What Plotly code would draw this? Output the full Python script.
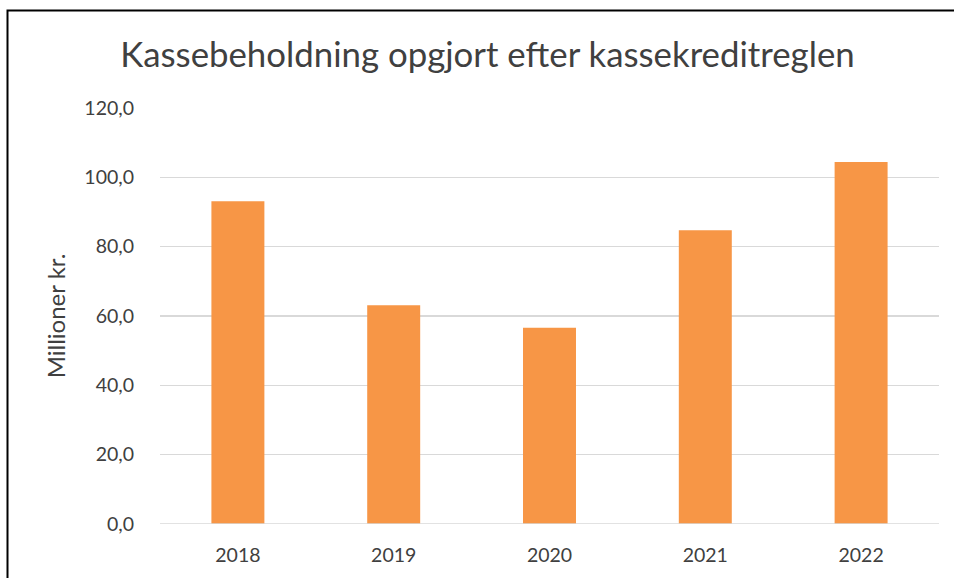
import plotly.graph_objects as go

years = ["2018", "2019", "2020", "2021", "2022"]
values = [93.1, 63.1, 56.6, 84.7, 104.4]
y_ticks = [0, 20, 40, 60, 80, 100, 120]
y_tick_labels = ["0,0", "20,0", "40,0", "60,0", "80,0", "100,0", "120,0"]

W, H = 955, 578
L, R, T, B = 160, 16, 108, 54
pw, ph = W - L - R, H - T - B

def px(x):
    return (x - L) / pw

def py(y):
    return (H - B - y) / ph

fig = go.Figure()
fig.add_trace(go.Bar(
    x=years, y=values,
    marker=dict(color="#F79646", line=dict(width=0)),
    hoverinfo="x+y",
))

font = "Lato, Calibri, Carlito, sans-serif"
fig.update_layout(
    width=W, height=H,
    margin=dict(l=L, r=R, t=T, b=B),
    paper_bgcolor="white", plot_bgcolor="white",
    bargap=0.66,
    showlegend=False,
    font=dict(family=font, color="#595959"),
    title=dict(text="Kassebeholdning opgjort efter kassekreditreglen",
               x=px(487.5), xref="paper", xanchor="center",
               y=1 - 55 / H, yanchor="middle",
               font=dict(size=34.8, color="#404040", family=font)),
    xaxis=dict(showgrid=False, zeroline=False, showline=False, ticks="",
               tickfont=dict(size=19.5, color="#404040"), ticklabelstandoff=17),
    yaxis=dict(range=[0, 120], tickvals=y_ticks, ticktext=y_tick_labels,
               showgrid=True, gridcolor="#D9D9D9", gridwidth=1.5,
               zeroline=False, showline=False, ticks="",
               tickfont=dict(size=19.5, color="#404040"), ticklabelstandoff=25,
               title=dict(text="Millioner kr.", font=dict(size=24, color="#404040"),
                          standoff=11)),
)
# zero baseline
fig.add_shape(type="line", xref="paper", yref="y", x0=0, x1=1, y0=0, y1=0,
              line=dict(color="#D9D9D9", width=1.5), layer="above")
# outer frame (top and left visible), drawn as a path
x_left = px(7.5)
y_top = py(10.5)
fig.add_shape(type="path", xref="paper", yref="paper",
              path=f"M {x_left},{py(H)} L {x_left},{y_top} L {px(W - 1)},{y_top}",
              line=dict(color="black", width=2))

fig.write_html("out.html", config={"displayModeBar": False, "staticPlot": True},
               post_script="document.body.style.margin='0px';document.body.style.overflow='hidden';")
